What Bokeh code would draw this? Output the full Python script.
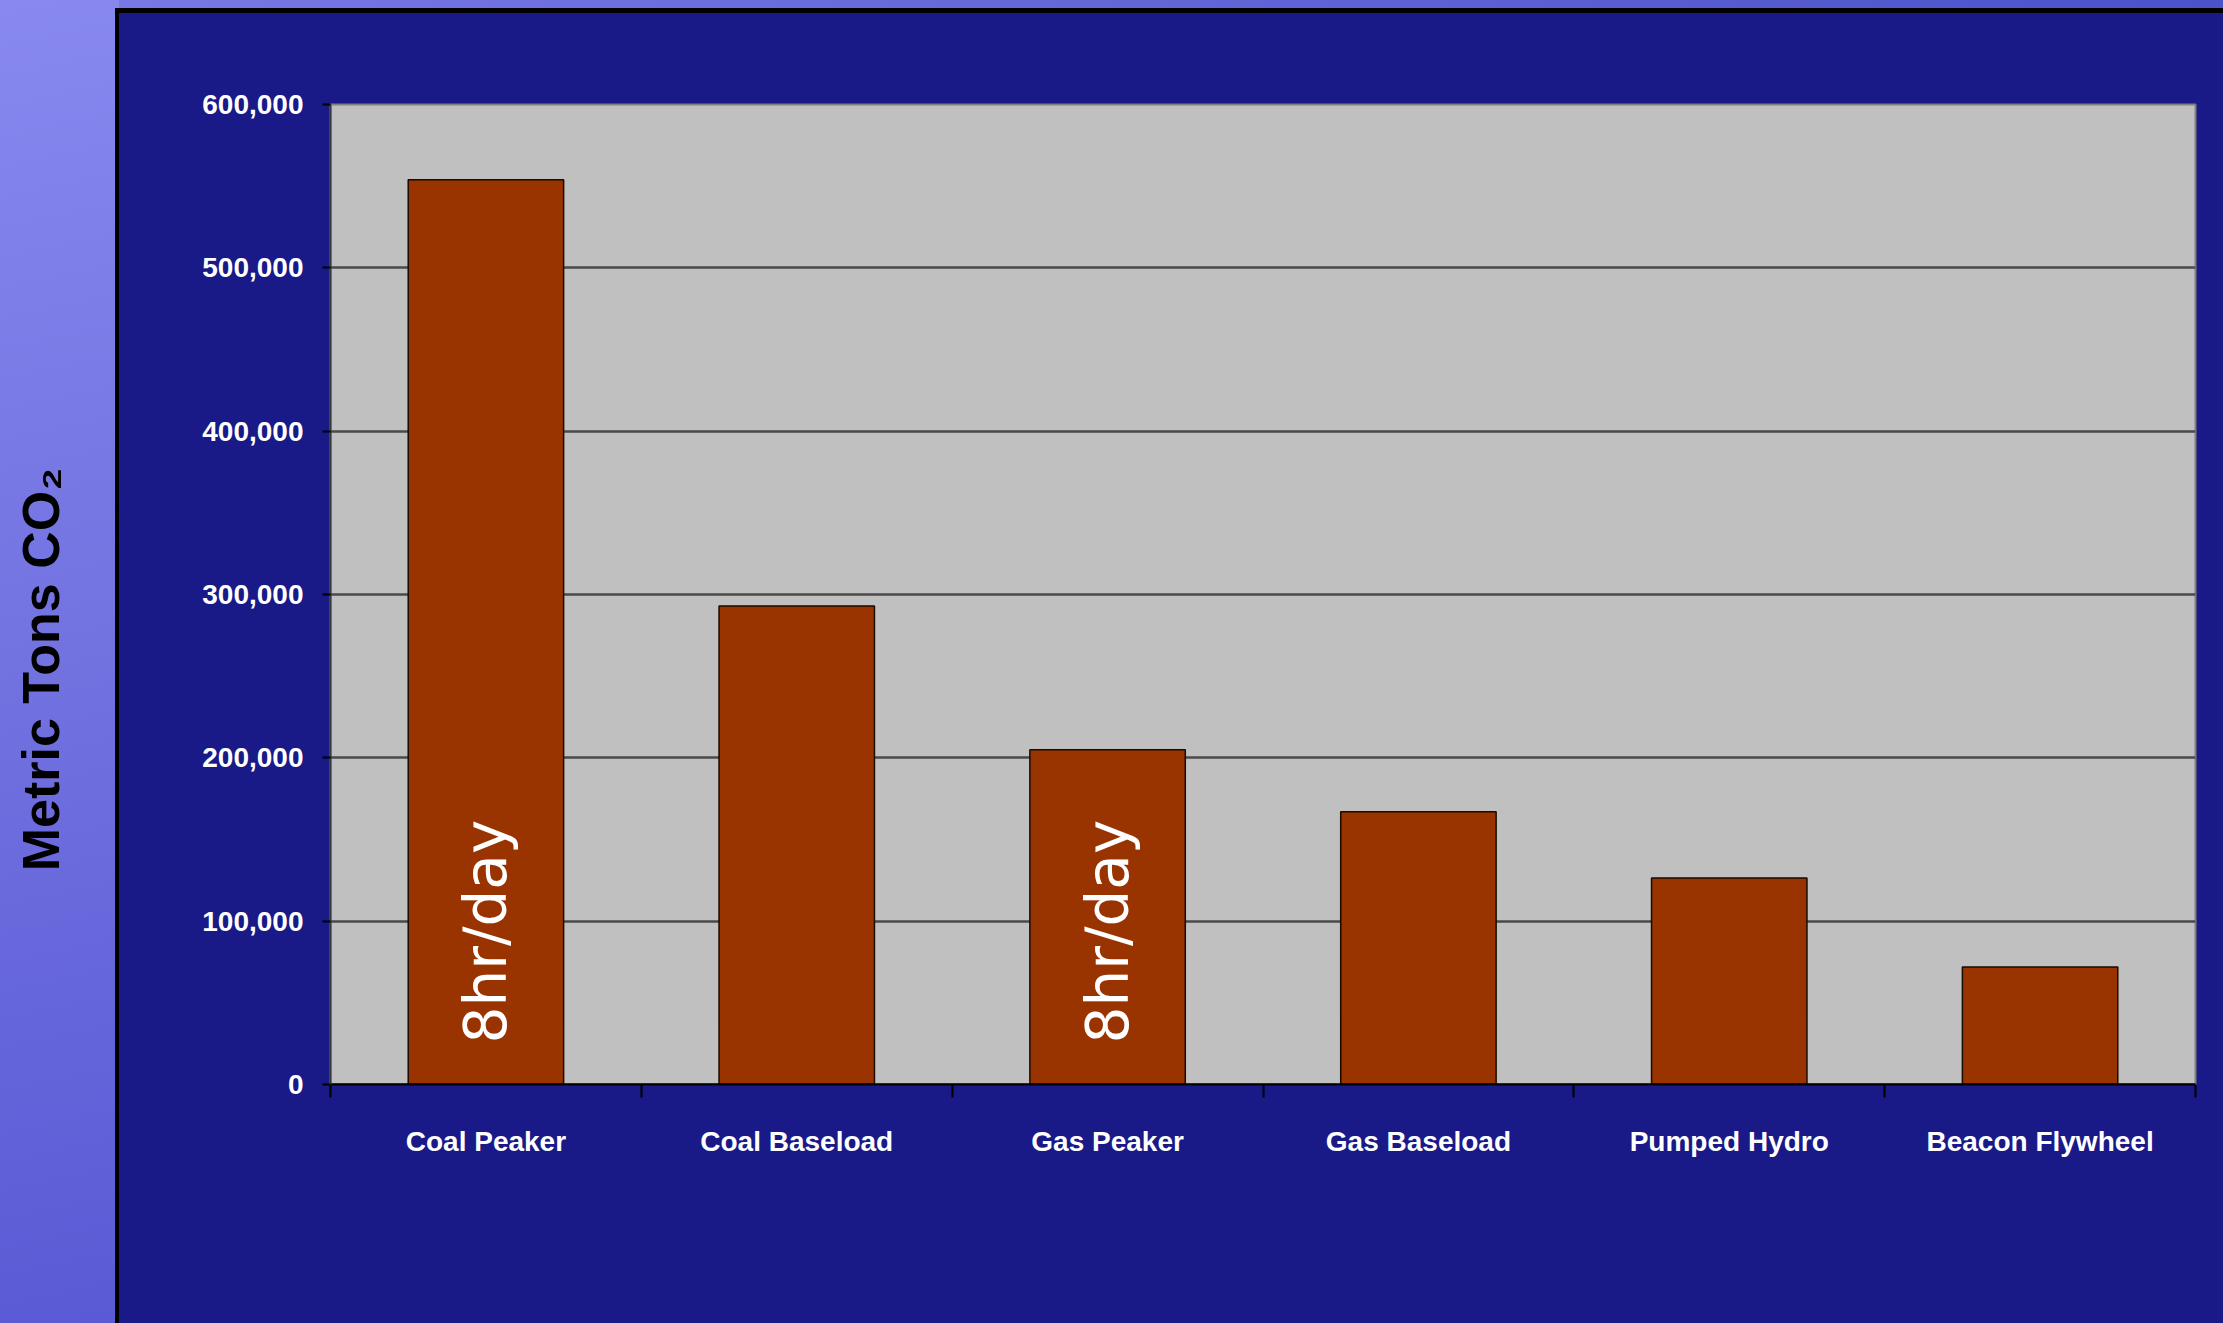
import math
from bokeh.plotting import figure
from bokeh.layouts import row
from bokeh.core.properties import value
from bokeh.models import (ColumnDataSource, Range1d, FactorRange, LinearAxis,
                          FixedTicker, NumeralTickFormatter, Label, LabelSet)
from bokeh.embed import file_html
from bokeh.resources import INLINE

# ---- data ----
categories = ["Coal Peaker", "Coal Baseload", "Gas Peaker", "Gas Baseload", "Pumped Hydro", "Beacon Flywheel"]
co2_tons = [554000, 293000, 205000, 167000, 126500, 72000]
y_ticks = [0, 100000, 200000, 300000, 400000, 500000, 600000]
note_categories = ["Coal Peaker", "Gas Peaker"]
note_texts = ["8hr/day", "8hr/day"]
y_axis_title = "Metric Tons CO\u2082"

NAVY = "#191987"
GRAY = "#c0c0c0"
BAR = "#993300"
FONT = "Liberation Sans"

# ---------------- left decorative strip with the axis title ----------------
strip_bg = ("linear-gradient(#000,#000) right 0px top 8px / 4px calc(100% - 8px) no-repeat, "
            "linear-gradient(168deg, #8888f0 0%, #7474e2 45%, #5a5ad5 100%)")
left = figure(frame_width=119, frame_height=1323, x_range=Range1d(0, 1), y_range=Range1d(0, 1),
              x_axis_location=None, y_axis_location=None,
              min_border=0, min_border_left=0, min_border_right=0, min_border_top=0, min_border_bottom=0,
              output_backend="svg", toolbar_location=None,
              background_fill_color=None, border_fill_color=None, outline_line_color=None,
              styles={"background": strip_bg})
left.grid.visible = False
left.add_layout(Label(x=40, y=758, x_units="screen", y_units="screen", text=y_axis_title,
                      angle=math.pi / 2, text_align="center", text_baseline="middle",
                      text_font=FONT, text_font_style="bold", text_font_size="52px",
                      text_color="black"))

# ---------------- main chart ----------------
main_bg = ("linear-gradient(%s,%s) 0px 13px / 100%% calc(100%% - 13px) no-repeat, "
           "linear-gradient(#000,#000) 0px 8px / 100%% 5px no-repeat, "
           "linear-gradient(to right, #7878e4, #4b53c9)") % (NAVY, NAVY)

p = figure(x_range=FactorRange(factors=categories, range_padding=0),
           y_range=Range1d(0, 600000),
           frame_width=1865, frame_height=980,
           min_border_left=211, min_border_right=28, min_border_top=104, min_border_bottom=239,
           x_axis_location=None, y_axis_location="left",
           output_backend="svg", toolbar_location=None,
           background_fill_color=GRAY, border_fill_color=None,
           outline_line_color="#808080", outline_line_width=2,
           styles={"background": main_bg})

# bars
src = ColumnDataSource(data=dict(category=categories, co2=co2_tons))
p.vbar(x="category", top="co2", width=0.5, bottom=0, source=src,
       fill_color=BAR, line_color="#1a0a00", line_width=1.5)

# y axis
yax = p.yaxis[0]
yax.ticker = FixedTicker(ticks=y_ticks)
yax.formatter = NumeralTickFormatter(format="0,0")
yax.axis_line_color = "#3a3a3a"
yax.axis_line_width = 2
yax.major_tick_line_color = "black"
yax.major_tick_line_width = 2
yax.major_tick_out = 8
yax.major_tick_in = 0
yax.minor_tick_line_color = None
yax.major_label_standoff = 19
yax.major_label_text_color = "white"
yax.major_label_text_font = FONT
yax.major_label_text_font_style = "bold"
yax.major_label_text_font_size = "28px"

p.ygrid.ticker = FixedTicker(ticks=y_ticks)
p.ygrid.grid_line_color = "#4a4a4a"
p.ygrid.grid_line_width = 2.5
p.xgrid.grid_line_color = None

# x axis: labels at category centres, tick marks at category boundaries
centers = [i + 0.5 for i in range(len(categories))]
bounds = list(range(len(categories) + 1))
xax = LinearAxis(ticker=FixedTicker(ticks=centers, minor_ticks=bounds),
                 major_label_overrides={c: name for c, name in zip(centers, categories)},
                 axis_line_color="black", axis_line_width=2.5,
                 major_tick_line_color=None, major_tick_out=0, major_tick_in=0,
                 minor_tick_line_color="black", minor_tick_line_width=2,
                 minor_tick_out=13, minor_tick_in=0,
                 major_label_standoff=28, major_label_text_color="white",
                 major_label_text_font=FONT, major_label_text_font_style="bold",
                 major_label_text_font_size="28px")
p.add_layout(xax, "below")

# rotated notes inside bars
note_src = ColumnDataSource(data=dict(x=note_categories, y=[0] * len(note_categories), text=note_texts))
p.add_layout(LabelSet(x="x", y="y", text="text", source=note_src, angle=math.pi / 2,
                      text_align="left", text_baseline="middle", y_offset=41,
                      text_color="white", text_font=value("DejaVu Sans"), text_font_size="58px"))

layout = row(left, p, spacing=0)
open("out.html", "w").write(file_html(layout, INLINE))
